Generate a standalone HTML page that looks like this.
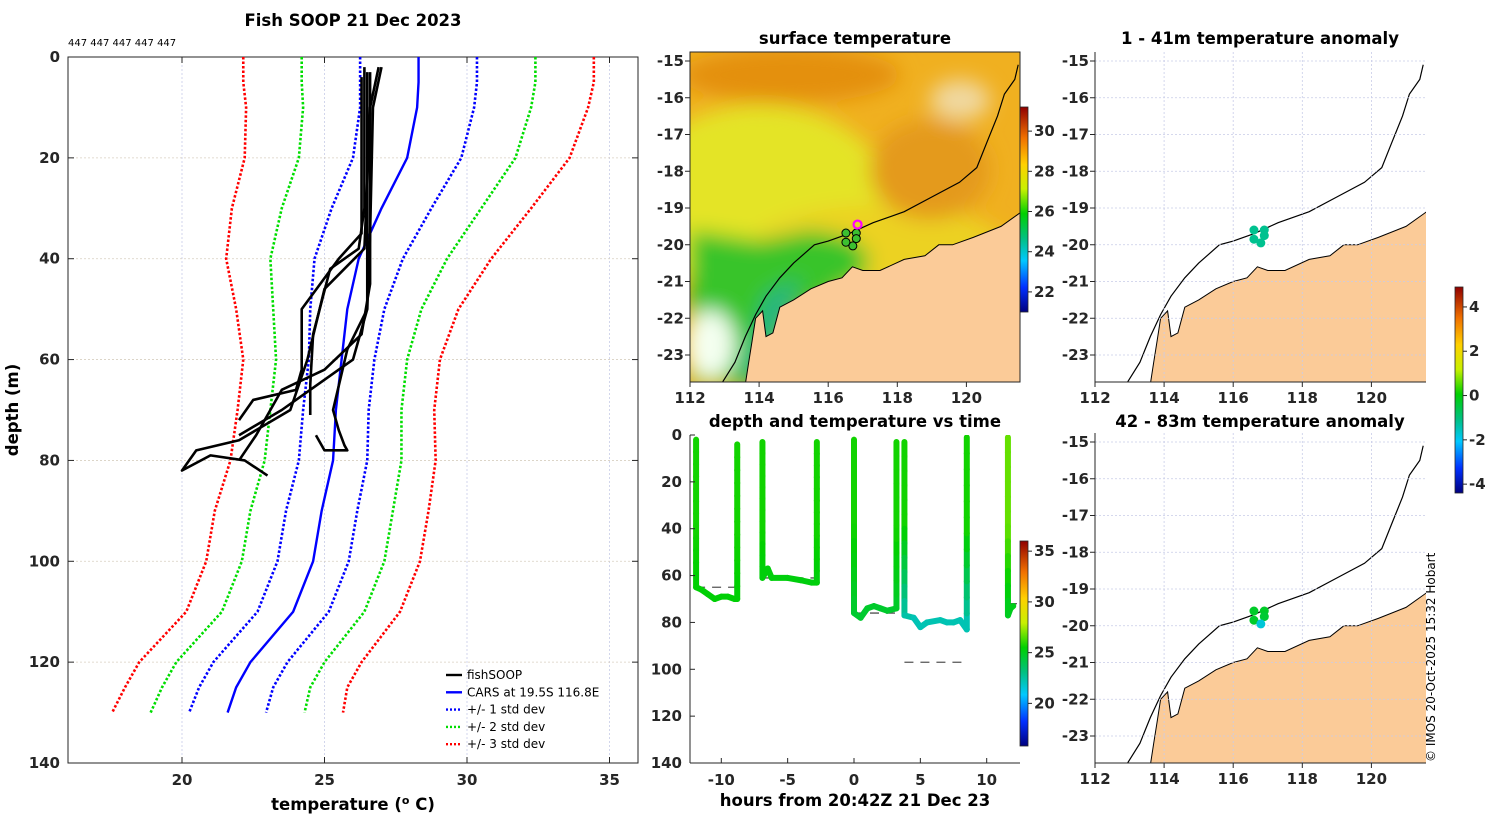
<!DOCTYPE html>
<html><head><meta charset="utf-8">
<style>
html,body{margin:0;padding:0;background:#fff;}
svg{display:block;font-family:"DejaVu Sans","Liberation Sans",sans-serif;}
.tk{font-size:15px;font-weight:bold;fill:#262626;}
.ttl{font-size:16.5px;font-weight:bold;fill:#000;}
</style></head>
<body>
<svg id="fig" xmlns="http://www.w3.org/2000/svg" width="1500" height="820" viewBox="0 0 1500 820">
<defs>
<linearGradient id="jet" x1="0" y1="1" x2="0" y2="0">
<stop offset="0" stop-color="#00007f"/><stop offset="0.12" stop-color="#0030ff"/><stop offset="0.25" stop-color="#00c8ff"/><stop offset="0.36" stop-color="#00c080"/><stop offset="0.48" stop-color="#00d000"/><stop offset="0.6" stop-color="#c8f000"/><stop offset="0.72" stop-color="#ffd000"/><stop offset="0.85" stop-color="#f07000"/><stop offset="1" stop-color="#900000"/>
</linearGradient>
<clipPath id="clipSurf"><rect x="690" y="52" width="330" height="330"/></clipPath>
<clipPath id="clipA"><rect x="1095" y="52" width="331" height="330"/></clipPath>
<clipPath id="clipB"><rect x="1095" y="433" width="331" height="330"/></clipPath>
<clipPath id="clipL"><rect x="68" y="57" width="570" height="706"/></clipPath>
<clipPath id="clipT"><rect x="690" y="435" width="330" height="328"/></clipPath>
<filter id="blur8"><feGaussianBlur stdDeviation="10"/></filter>
</defs>

<text class="ttl" x="353" y="26" text-anchor="middle">Fish SOOP 21 Dec 2023</text>
<text x="68" y="46" font-size="10" fill="#000">447 447 447 447 447</text>
<text class="ttl" x="18" y="410" text-anchor="middle" transform="rotate(-90 18 410)">depth (m)</text>
<text class="ttl" x="353" y="810" text-anchor="middle">temperature (<tspan dy="-6" font-size="11">o</tspan><tspan dy="6"> C)</tspan></text>
<g id="left"></g>

<text class="ttl" x="855" y="44" text-anchor="middle">surface temperature</text>
<g id="surf"></g>

<text class="ttl" x="855" y="427" text-anchor="middle">depth and temperature vs time</text>
<text class="ttl" x="855" y="806" text-anchor="middle">hours from 20:42Z 21 Dec 23</text>
<g id="ts"></g>

<text class="ttl" x="1260" y="44" text-anchor="middle">1 - 41m temperature anomaly</text>
<text class="ttl" x="1260" y="427" text-anchor="middle">42 - 83m temperature anomaly</text>
<g id="mapA"></g>
<g id="mapB"></g>
<g id="cbars"></g>
<text x="1435" y="762" font-size="12" fill="#000" transform="rotate(-90 1435 762)">© IMOS 20-Oct-2025 15:32 Hobart</text>
</svg>
<script>
// ---- profile chart data ----
var climDepths=[0,5,10,20,30,40,50,60,70,80,90,100,110,120,125,130];
var climMean=[28.3,28.3,28.25,27.9,27.0,26.2,25.8,25.6,25.4,25.3,24.9,24.6,23.9,22.4,21.9,21.6];
var climStd=[2.05,2.05,2.0,1.9,1.75,1.55,1.3,1.15,1.15,1.2,1.25,1.25,1.25,1.3,1.3,1.35];
var prof1=[[26.9,2],[26.6,10],[26.5,25],[26.4,38],[25.0,46],[24.4,60],[23.8,70],[22.0,76],[20.5,78],[20.0,82],[21.0,79],[22.2,80],[23.0,83]];
var prof2=[[26.4,2],[26.4,30],[26.2,38],[25.2,42],[24.6,55],[24.5,65],[24.5,71]];
var prof3=[[27.0,2],[26.7,10],[26.6,35],[26.5,50],[26.0,60],[24.5,66],[23.5,70],[22.0,75]];
var prof4=[[26.5,3],[26.5,50],[25.8,58],[25.3,70],[25.5,74],[25.7,77],[25.8,78],[25.0,78],[24.7,75]];
var prof5=[[26.6,3],[26.6,45],[26.3,55],[25.0,62],[23.5,66],[22.6,75],[22.0,80]];
var prof6=[[26.3,4],[26.3,35],[25.5,40],[24.2,50],[24.2,62],[24.0,66],[22.5,68],[22.0,72]];
var tempTicks=[20,25,30,35];
var depthTicks=[0,20,40,60,80,100,120,140];
var legendLabels=["fishSOOP","CARS at 19.5S 116.8E","+/- 1 std dev","+/- 2 std dev","+/- 3 std dev"];
// ---- time series data ----
var dive1=[[-11.9,2],[-11.9,65],[-11.5,66],[-11.0,68],[-10.5,70],[-10.0,69],[-9.5,69],[-9.0,70],[-8.8,70],[-8.8,4]];
var dive2=[[-6.9,3],[-6.9,61],[-6.5,57],[-6.2,61],[-5.0,61],[-4.0,62],[-3.2,63],[-2.8,63],[-2.8,3]];
var dive3=[[0.0,2],[0.0,76],[0.5,78],[1.0,74],[1.5,73],[2.0,74],[2.5,75],[3.2,74],[3.2,3]];
var dive4=[[3.8,3],[3.8,77],[4.5,78],[5.0,82],[5.5,80],[6.5,79],[7.0,80],[7.5,80],[8.0,79],[8.5,83],[8.5,1]];
var dive5=[[11.6,1],[11.6,77],[11.8,74],[12.0,73]];
var diveSurfaceTemps=[25.8,25.8,25.8,25.8,26.8];
var diveBottomTemps=[25.4,25.0,24.6,22.3,24.8];
var bottomLines=[[-11.9,-8.8,65],[-6.9,-2.8,61],[0.0,3.2,76],[3.8,8.3,97],[11.6,12.5,72]];
var hourTicks=[-10,-5,0,5,10];
var tsDepthTicks=[0,20,40,60,80,100,120,140];
// ---- maps data ----
var coastLand=[[113.6,-23.8],[113.7,-23.2],[113.8,-22.6],[113.9,-22.0],[114.1,-21.8],[114.2,-22.5],[114.4,-22.4],[114.6,-21.7],[115.0,-21.5],[115.5,-21.2],[116.0,-21.0],[116.4,-20.9],[116.7,-20.6],[117.0,-20.7],[117.5,-20.7],[118.2,-20.4],[118.8,-20.3],[119.2,-20.0],[119.6,-20.0],[120.2,-19.8],[121.0,-19.5],[121.6,-19.1],[121.6,-23.8]];
var shelfLine=[[112.9,-23.8],[113.3,-23.2],[113.6,-22.5],[113.9,-21.9],[114.2,-21.4],[114.6,-20.9],[115.0,-20.5],[115.6,-20.0],[116.0,-19.9],[116.6,-19.7],[117.3,-19.4],[118.2,-19.1],[119.0,-18.7],[119.8,-18.3],[120.3,-17.9],[120.6,-17.2],[120.9,-16.5],[121.1,-15.9],[121.4,-15.5],[121.5,-15.1]];
var castLons=[116.6,116.9,116.6,116.9,116.8];
var castLats=[-19.6,-19.6,-19.85,-19.75,-19.95];
var anomShallow=[-1.2,-1.2,-1.2,-1.2,-1.2];
var anomDeep=[-0.3,-0.3,-0.3,-0.4,-1.8];
var lonTicks=[112,114,116,118,120];
var latTicks=[-15,-16,-17,-18,-19,-20,-21,-22,-23];

var NS='http://www.w3.org/2000/svg';
function mk(tag,at,par){var e=document.createElementNS(NS,tag);for(var k in at)e.setAttribute(k,at[k]);par.appendChild(e);return e;}
function jet(v,lo,hi){var t=Math.max(0,Math.min(1,(v-lo)/(hi-lo)));
 var st=[[0,[0,0,127]],[0.12,[0,48,255]],[0.25,[0,200,255]],[0.36,[0,192,128]],[0.48,[0,208,0]],[0.6,[200,240,0]],[0.72,[255,208,0]],[0.85,[240,112,0]],[1,[144,0,0]]];
 for(var i=1;i<st.length;i++){if(t<=st[i][0]){var a=st[i-1],b=st[i],f=(t-a[0])/(b[0]-a[0]);return 'rgb('+[0,1,2].map(function(j){return Math.round(a[1][j]+f*(b[1][j]-a[1][j]));}).join(',')+')';}}return 'rgb(144,0,0)';}

// ===== LEFT PROFILE CHART =====
(function(){
var g=document.getElementById('left');
var X0=68,X1=638,Y0=57,Y1=763;
function x(t){return X0+(t-16)/(36-16)*(X1-X0);}
function y(d){return Y0+d/140*(Y1-Y0);}
tempTicks.forEach(function(t){var l=mk('line',{x1:x(t),x2:x(t),y1:Y0,y2:Y1,stroke:'#c8cce8','stroke-width':0.8,'stroke-dasharray':'2,2'},g);


var tx=mk('text',{x:x(t),y:Y1+22,'text-anchor':'middle','class':'tk'},g);tx.textContent=t;


mk('line',{x1:x(t),x2:x(t),y1:Y1,y2:Y1-6,stroke:'#262626'},g);mk('line',{x1:x(t),x2:x(t),y1:Y0,y2:Y0+6,stroke:'#262626'},g);});
depthTicks.forEach(function(d){if(d>0&&d<140){var l=mk('line',{x1:X0,x2:X1,y1:y(d),y2:y(d),stroke:'#d8cfc0','stroke-width':0.8,'stroke-dasharray':'2,2'},g);

}
var tx=mk('text',{x:X0-8,y:y(d)+5,'text-anchor':'end','class':'tk'},g);tx.textContent=d;


mk('line',{x1:X0,x2:X0+6,y1:y(d),y2:y(d),stroke:'#262626'},g);mk('line',{x1:X1,x2:X1-6,y1:y(d),y2:y(d),stroke:'#262626'},g);});
var box=mk('rect',{x:X0,y:Y0,width:X1-X0,height:Y1-Y0,fill:'none',stroke:'#262626','stroke-width':1},g);


var cg=mk('g',{'clip-path':'url(#clipL)'},g);
var cols={1:'#0000ff',2:'#00dd00',3:'#ff0000'};
[-3,-2,-1,1,2,3].forEach(function(k){var pts=climDepths.map(function(d,i){return x(climMean[i]+k*climStd[i])+','+y(d);}).join(' ');
var p=mk('polyline',{points:pts,fill:'none',stroke:cols[Math.abs(k)],'stroke-width':2.6,'stroke-dasharray':'2.5,2'},cg);

});
var m=mk('polyline',{points:climDepths.map(function(d,i){return x(climMean[i])+','+y(d);}).join(' '),fill:'none',stroke:'#0000ff','stroke-width':2.4},cg);


[prof1,prof2,prof3,prof4,prof5,prof6].forEach(function(pr){var p=mk('polyline',{points:pr.map(function(q){return x(q[0])+','+y(q[1]);}).join(' '),fill:'none',stroke:'#000','stroke-width':2.6,'stroke-linejoin':'round'},cg);

});
var lc=['#000','#0000ff','#0000ff','#00dd00','#ff0000'],ld=['','','2,2','2,2','2,2'];
legendLabels.forEach(function(s,i){var yy=675+i*17.3;
var l=mk('line',{x1:446,x2:462,y1:yy,y2:yy,stroke:lc[i],'stroke-width':2.4},g);if(ld[i])l.setAttribute('stroke-dasharray',ld[i]);


var t=mk('text',{x:467,y:yy+4,'font-size':12,fill:'#000'},g);t.textContent=s;

});
})();

// ===== MAP HELPERS =====
var MXr=34.55;
function lonX(lon,x0){return x0+(lon-112)*MXr;}
function latY(lat,y15){return y15+(-15-lat)*36.75;}
function polyPts(arr,x0,y15){return arr.map(function(p){return lonX(p[0],x0).toFixed(1)+','+latY(p[1],y15).toFixed(1);}).join(' ');}
function mapAxes(g,x0,x1,top,bot,y15,gridCol){
 lonTicks.forEach(function(lo){var xx=lonX(lo,x0);
  if(gridCol){var l=mk('line',{x1:xx,x2:xx,y1:top,y2:bot,stroke:gridCol,'stroke-width':0.8,'stroke-dasharray':'2,2'},g);
  
  }
  mk('line',{x1:xx,x2:xx,y1:bot,y2:bot+5,stroke:'#262626'},g);
  var t=mk('text',{x:xx,y:bot+21,'text-anchor':'middle','class':'tk'},g);t.textContent=lo;
  
  });
 latTicks.forEach(function(la){var yy=latY(la,y15);
  if(gridCol){var l=mk('line',{x1:x0,x2:x1,y1:yy,y2:yy,stroke:gridCol,'stroke-width':0.8,'stroke-dasharray':'2,2'},g);
  
  }
  mk('line',{x1:x0-5,x2:x0,y1:yy,y2:yy,stroke:'#262626'},g);
  var t=mk('text',{x:x0-6,y:yy+5,'text-anchor':'end','class':'tk'},g);t.textContent=la;
  
  });
 mk('line',{x1:x0,x2:x0,y1:top,y2:bot,stroke:'#262626'},g);mk('line',{x1:x0,x2:x1,y1:bot,y2:bot,stroke:'#262626'},g);
}

// ===== SURFACE MAP =====
(function(){
var g=document.getElementById('surf');var y15=61;
var c=mk('g',{'clip-path':'url(#clipSurf)'},g);
var bg=mk('rect',{x:690,y:52,width:330,height:330,fill:'#f0b020'},c);


var b=mk('g',{filter:'url(#blur8)'},c);
mk('ellipse',{cx:760,cy:200,rx:130,ry:95,fill:'#e4e428'},b);
mk('ellipse',{cx:880,cy:250,rx:130,ry:45,fill:'#ecd220'},b);
mk('ellipse',{cx:790,cy:75,rx:110,ry:28,fill:'#e4900c'},b);
mk('ellipse',{cx:930,cy:170,rx:60,ry:50,fill:'#e49a1c'},b);
mk('ellipse',{cx:990,cy:290,rx:40,ry:40,fill:'#e8a018'},b);
mk('polygon',{points:polyPts([[112,-19.6],[114,-19.9],[115.5,-19.6],[116.6,-19.8],[117.2,-20.3],[117.0,-20.9],[115,-21.8],[114,-23.8],[112,-23.8]],690,y15),fill:'#38c42c'},b);
mk('polygon',{points:polyPts([[114.2,-21.4],[115.2,-20.9],[114.6,-22.2],[113.8,-23.8],[113.4,-23.8]],690,y15),fill:'#24b488'},b);
mk('ellipse',{cx:710,cy:345,rx:25,ry:35,fill:'#f4fff0'},b);
mk('ellipse',{cx:960,cy:100,rx:30,ry:20,fill:'#f0d8a0'},b);
var land=mk('polygon',{points:polyPts(coastLand,690,y15),fill:'#fbcb98',stroke:'#000','stroke-width':1},c);


var sh=mk('polyline',{points:polyPts(shelfLine,690,y15),fill:'none',stroke:'#000','stroke-width':1.2},c);


castLons.forEach(function(lo,i){var ci=mk('circle',{cx:lonX(lo,690)-3,cy:latY(castLats[i],y15)+3,r:4,fill:'#3cc030',stroke:'#000','stroke-width':1},c);

});
var mg=mk('circle',{cx:lonX(116.85,690),cy:latY(-19.45,y15),r:4,fill:'none',stroke:'#ff00ff','stroke-width':2.2},c);


mapAxes(g,690,1020,52,382,y15,null);
mk('rect',{x:690,y:52,width:330,height:330,fill:'none',stroke:'#262626'},g);
})();

// ===== ANOMALY MAPS =====
function anomMap(id,top,y15,vals){
var g=document.getElementById(id);var bot=top+330;
var c=mk('g',{'clip-path':'url(#clip'+(id==='mapA'?'A':'B')+')'},g);
var land=mk('polygon',{points:polyPts(coastLand,1095,y15),fill:'#fbcb98',stroke:'#000','stroke-width':1},c);


var sh=mk('polyline',{points:polyPts(shelfLine,1095,y15),fill:'none',stroke:'#000','stroke-width':1.2},c);


mapAxes(g,1095,1426,top,bot,y15,'#c8cce8');
castLons.forEach(function(lo,i){var ci=mk('circle',{cx:lonX(lo,1095),cy:latY(castLats[i],y15),r:4.5,fill:jet(vals[i],-4.5,5)},g);

});
}
anomMap('mapA',52,61,anomShallow);
anomMap('mapB',433,442,anomDeep);

// ===== TIME SERIES =====
(function(){
var g=document.getElementById('ts');
var X0=690,X1=1020,Y0=435,Y1=763;
function x(h){return 854+h*13.27;}
function y(d){return Y0+d/140*(Y1-Y0);}
var c=mk('g',{'clip-path':'url(#clipT)'},g);
bottomLines.forEach(function(b){var l=mk('line',{x1:x(b[0]),x2:x(b[1]),y1:y(b[2]),y2:y(b[2]),stroke:'#555','stroke-width':1.3,'stroke-dasharray':'9,7'},c);

});
[dive1,dive2,dive3,dive4,dive5].forEach(function(dv,i){
 for(var j=1;j<dv.length;j++){var a=dv[j-1],b=dv[j];var dm=(a[1]+b[1])/2;
  var n=(a[0]===b[0])?12:1;
  for(var k=0;k<n;k++){var d0=a[1]+(b[1]-a[1])*k/n,d1=a[1]+(b[1]-a[1])*(k+1)/n,t0=a[0]+(b[0]-a[0])*k/n,t1=a[0]+(b[0]-a[0])*(k+1)/n;
   var dd=(d0+d1)/2;var f=Math.max(0,Math.min(1,(dd-40)/40));
   var tmp=diveSurfaceTemps[i]+(diveBottomTemps[i]-diveSurfaceTemps[i])*f;
   var s=mk('line',{x1:x(t0),y1:y(d0),x2:x(t1),y2:y(d1),stroke:jet(tmp,16,36),'stroke-width':6,'stroke-linecap':'round'},c);
   
   }}
});
hourTicks.forEach(function(h){mk('line',{x1:x(h),x2:x(h),y1:Y1,y2:Y1-5,stroke:'#262626'},g);
var t=mk('text',{x:x(h),y:Y1+22,'text-anchor':'middle','class':'tk'},g);t.textContent=h;

});
tsDepthTicks.forEach(function(d){mk('line',{x1:X0,x2:X0+5,y1:y(d),y2:y(d),stroke:'#262626'},g);
var t=mk('text',{x:X0-8,y:y(d)+5,'text-anchor':'end','class':'tk'},g);t.textContent=d;

});
mk('line',{x1:X0,x2:X0,y1:Y0,y2:Y1,stroke:'#262626'},g);mk('line',{x1:X0,x2:X1,y1:Y1,y2:Y1,stroke:'#262626'},g);
})();

// ===== COLORBARS =====
(function(){
var g=document.getElementById('cbars');
function cbar(x0,yt,yb,lo,hi,ticks,name){
 var r=mk('rect',{x:x0,y:yt,width:8,height:yb-yt,fill:'url(#jet)',stroke:'#262626','stroke-width':0.8},g);
 
 
 ticks.forEach(function(v){var yy=yb-(v-lo)/(hi-lo)*(yb-yt);mk('line',{x1:x0+8,x2:x0+12,y1:yy,y2:yy,stroke:'#262626'},g);
 var t=mk('text',{x:x0+14,y:yy+5,'class':'tk','font-size':13},g);t.textContent=v;
 
 });
}
cbar(1020,107,312,21,31.2,[22,24,26,28,30],'sst-colorbar');
cbar(1020,541,746,15.8,36,[20,25,30,35],'timeseries-colorbar');
cbar(1455,287,493,-4.4,4.9,[-4,-2,0,2,4],'anomaly-colorbar');
})();
</script>
</body></html>
